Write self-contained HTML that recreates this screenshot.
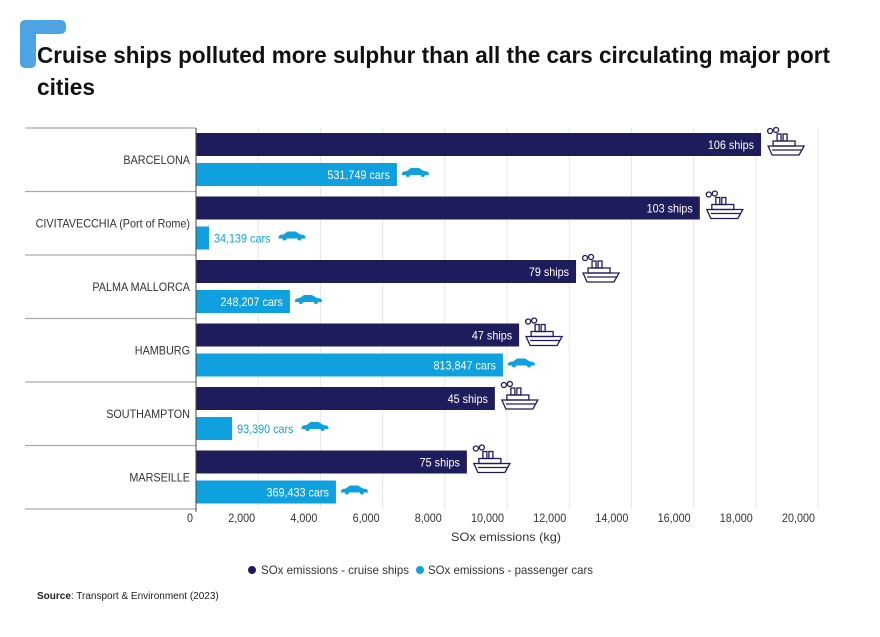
<!DOCTYPE html>
<html><head><meta charset="utf-8"><style>
body{margin:0;background:#fff;width:880px;height:632px;overflow:hidden;font-family:"Liberation Sans",sans-serif}
</style></head><body>
<svg id="c" width="880" height="632" xmlns="http://www.w3.org/2000/svg">
<rect x="20" y="20" width="46" height="14" rx="5" fill="#4ea3e2"/>
<rect x="20" y="20" width="16" height="48" rx="5" fill="#4ea3e2"/>
<text x="37" y="63" font-size="23" font-weight="bold" fill="#111" textLength="793" lengthAdjust="spacingAndGlyphs">Cruise ships polluted more sulphur than all the cars circulating major port</text>
<text x="37" y="95" font-size="23" font-weight="bold" fill="#111" textLength="58" lengthAdjust="spacingAndGlyphs">cities</text>
<g id="grid"></g><g id="bars"></g><g id="axis"></g>
<text x="506" y="541" font-size="12" fill="#333" text-anchor="middle" textLength="110" lengthAdjust="spacingAndGlyphs">SOx emissions (kg)</text>
<g>
<circle cx="252" cy="570" r="4" fill="#1f1c5c"/>
<text x="261" y="574" font-size="12" fill="#333" textLength="148" lengthAdjust="spacingAndGlyphs">SOx emissions - cruise ships</text>
<circle cx="420" cy="570" r="4" fill="#0fa0e0"/>
<text x="428" y="574" font-size="12" fill="#333" textLength="165" lengthAdjust="spacingAndGlyphs">SOx emissions - passenger cars</text>
</g>
<text x="37" y="599" font-size="10" fill="#222"><tspan font-weight="bold">Source</tspan>: Transport &amp; Environment (2023)</text>
</svg>
<script>
const cities=["BARCELONA","CIVITAVECCHIA (Port of Rome)","PALMA MALLORCA","HAMBURG","SOUTHAMPTON","MARSEILLE"];
const shipValues=[18170,16200,12220,10390,9610,8710];
const carValues=[6460,420,3020,9870,1160,4500];
const shipLabels=["106 ships","103 ships","79 ships","47 ships","45 ships","75 ships"];
const carLabels=["531,749 cars","34,139 cars","248,207 cars","813,847 cars","93,390 cars","369,433 cars"];
const ticks=[0,2000,4000,6000,8000,10000,12000,14000,16000,18000,20000];
const tickLabels=["0","2,000","4,000","6,000","8,000","10,000","12,000","14,000","16,000","18,000","20,000"];
const NS="http://www.w3.org/2000/svg";
const x0=196,xMax=20000,xW=622,topY=128,rowH=63.5;
const xs=v=>x0+v/xMax*xW;
function mk(tag,attrs,parent,txt){const e=document.createElementNS(NS,tag);for(const k in attrs)e.setAttribute(k,attrs[k]);if(txt!==undefined)e.textContent=txt;parent.appendChild(e);return e;}
function condense(t){const w=t.getComputedTextLength();if(w>0){t.setAttribute('textLength',(w*0.9).toFixed(1));t.setAttribute('lengthAdjust','spacingAndGlyphs');}return w*0.9;}
const grid=document.getElementById('grid'),bars=document.getElementById('bars'),axis=document.getElementById('axis');
ticks.forEach((t,i)=>{
 if(i>0){const l=mk('line',{x1:xs(t),x2:xs(t),y1:topY,y2:topY+rowH*6,stroke:'#e6e6e6','stroke-width':1},grid);
 
 }
 const tx=mk('text',{x:xs(t)-3,y:522,'font-size':12,fill:'#333','text-anchor':'end'},axis,tickLabels[i]);
 
 
 condense(tx);
});
for(let i=0;i<=6;i++){const l=mk('line',{x1:25,x2:x0,y1:topY+rowH*i,y2:topY+rowH*i,stroke:'#aaa','stroke-width':1.2},grid);
 
 }
const ax=mk('line',{x1:x0,x2:x0,y1:topY,y2:topY+rowH*6+3,stroke:'#444','stroke-width':1},axis);


function ship(x,y){const g=mk('g',{transform:`translate(${x},${y})`,fill:'none',stroke:'#1f1c5c','stroke-width':1.3},bars);
 
 
 mk('path',{d:'M2 18 L38 18 L33 27 L6 27 Z'},g);mk('rect',{x:7,y:13,width:22,height:5},g);mk('rect',{x:11,y:6,width:4,height:7},g);mk('rect',{x:17,y:6,width:4,height:7},g);
 mk('circle',{cx:4,cy:3,r:2.5},g);mk('circle',{cx:10,cy:2,r:2.5},g);mk('line',{x1:6,x2:36,y1:22,y2:22},g);}
function car(x,y){const g=mk('g',{transform:`translate(${x},${y})`,fill:'#0fa0e0'},bars);
 
 
 mk('path',{d:'M0 6 Q0 3 5 3 L9 0 L17 0 L22 3 Q27 3 27 6 L27 7 L0 7 Z'},g);mk('circle',{cx:6,cy:7,r:2},g);mk('circle',{cx:21,cy:7,r:2},g);}
cities.forEach((c,i)=>{
 const y=topY+rowH*i;
 const lab=mk('text',{x:190,y:y+36,'font-size':12,fill:'#333','text-anchor':'end'},axis,c);
 
 
 condense(lab);
 const sx=xs(shipValues[i]);
 const b1=mk('rect',{x:x0,y:y+5,width:sx-x0,height:23,fill:'#1f1c5c'},bars);
 
 
 const t1=mk('text',{x:sx-7,y:y+21,'font-size':12,fill:'#fff','text-anchor':'end'},bars,shipLabels[i]);
 
 
 condense(t1);
 ship(sx+5,y);
 const cx=xs(carValues[i]);
 const b2=mk('rect',{x:x0,y:y+35,width:cx-x0,height:23,fill:'#0fa0e0'},bars);
 
 
 const inside=cx-x0>90;
 const t2=mk('text',{x:inside?cx-7:cx+5,y:y+51,'font-size':12,fill:inside?'#fff':'#0fa0e0','text-anchor':inside?'end':'start'},bars,carLabels[i]);
 
 
 const w=condense(t2);
 const tw=inside?0:w+8;
 car(cx+5+tw,y+40);
});
</script>
</body></html>
